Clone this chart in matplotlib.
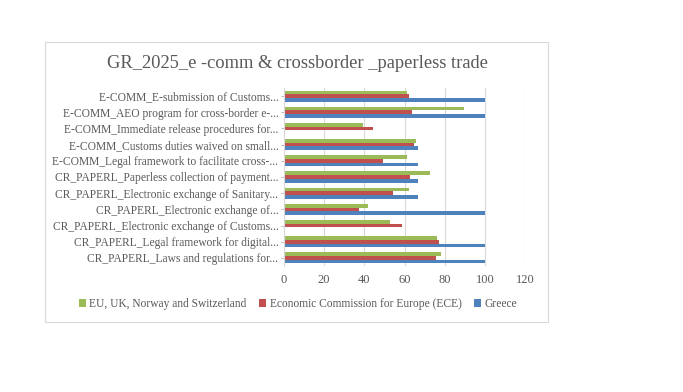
import numpy as np
import matplotlib
matplotlib.use('Agg')
import matplotlib.pyplot as plt
from matplotlib.patches import Rectangle

# categories listed top to bottom as shown
categories = [
    "E-COMM_E-submission of Customs...",
    "E-COMM_AEO program for cross-border e-...",
    "E-COMM_Immediate release procedures for...",
    "E-COMM_Customs duties waived on small...",
    "E-COMM_Legal framework to facilitate cross-...",
    "CR_PAPERL_Paperless collection of payment...",
    "CR_PAPERL_Electronic exchange of Sanitary...",
    "CR_PAPERL_Electronic exchange of...",
    "CR_PAPERL_Electronic exchange of Customs...",
    "CR_PAPERL_Legal framework for digital...",
    "CR_PAPERL_Laws and regulations for...",
]
eu = [61.4, 89.7, 39.1, 65.5, 61.2, 72.6, 62.0, 41.6, 53.0, 76.0, 78.3]
ece = [62.2, 63.8, 44.4, 64.5, 49.3, 62.5, 54.4, 37.3, 58.7, 77.3, 75.5]
greece = [100, 100, 0, 66.8, 66.8, 66.8, 66.8, 100, 0, 100, 100]

green = '#9bbb59'
red = '#c0504d'
blue = '#4f81bd'
txt = '#595959'

plt.rcParams['font.family'] = ['Liberation Serif', 'DejaVu Serif']

fig = plt.figure(figsize=(6.83, 3.92), dpi=100)
fig.patch.set_facecolor('white')
fig.patches.append(Rectangle((45 / 683, 1 - 322 / 392), 503 / 683, 280 / 392,
                             transform=fig.transFigure, fill=False,
                             edgecolor='#d9d9d9', linewidth=0.8))

ax = fig.add_axes([284 / 683, 1 - 266 / 392, 241 / 683, 178 / 392])

y = np.arange(len(categories))[::-1]
h = 0.23
b1 = ax.barh(y + h, eu, height=h, color=green, label='EU, UK, Norway and Switzerland')
b2 = ax.barh(y, ece, height=h, color=red, label='Economic Commission for Europe (ECE)')
b3 = ax.barh(y - h, greece, height=h, color=blue, label='Greece')

ax.set_xlim(0, 120)
ax.set_ylim(-0.5, len(categories) - 0.5)
ax.set_xticks(range(0, 121, 20))
ax.set_yticks(y)
ax.set_yticklabels(categories)
ax.tick_params(axis='x', length=0, labelsize=9, labelcolor=txt, pad=6)
ax.tick_params(axis='y', length=2, labelsize=8.3, color='#bfbfbf', labelcolor=txt, pad=2)
ax.xaxis.grid(True, color='#d9d9d9', linewidth=0.8)
ax.set_axisbelow(True)
for s in ['top', 'right', 'bottom']:
    ax.spines[s].set_visible(False)
ax.spines['left'].set_color('#d9d9d9')

fig.text(297 / 683, 1 - 63 / 392, 'GR_2025_e -comm & crossborder _paperless trade',
         ha='center', va='center', fontsize=13.3, color=txt)

fig.legend(handles=[b1, b2, b3], loc='center', bbox_to_anchor=(298 / 683, 1 - 304 / 392),
           ncol=3, frameon=False, fontsize=8.3, handlelength=0.6, handleheight=0.6,
           handletextpad=0.3, columnspacing=1.1, labelcolor=txt)

fig.savefig('out.png', dpi=100, facecolor='white')
